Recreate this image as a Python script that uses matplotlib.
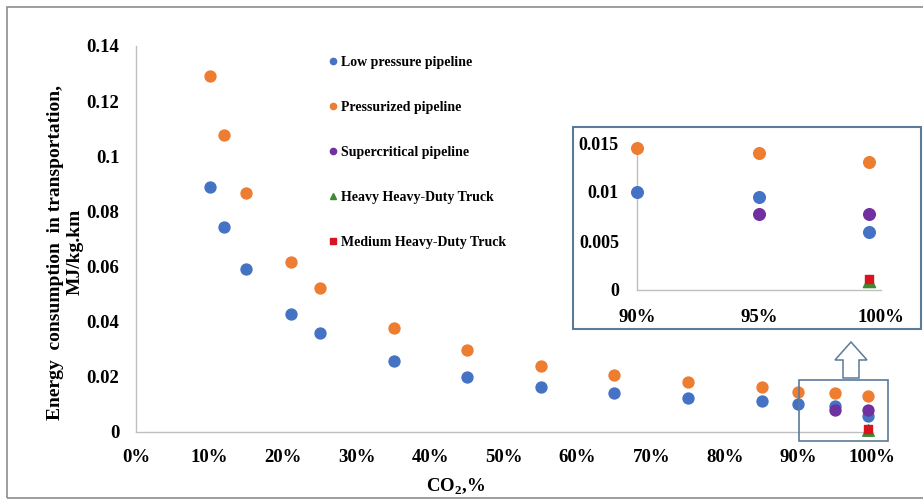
import matplotlib
matplotlib.use("Agg")
import matplotlib.pyplot as plt
from matplotlib.lines import Line2D
from matplotlib.patches import Rectangle, Polygon

plt.rcParams['font.family'] = ['Liberation Serif', 'DejaVu Serif']
plt.rcParams['font.weight'] = 'bold'
plt.rcParams['mathtext.fontset'] = 'custom'
plt.rcParams['mathtext.rm'] = 'Liberation Serif'
plt.rcParams['mathtext.bf'] = 'Liberation Serif:bold'

# CO2 purity (fraction) and specific transport energy (MJ/kg.km)
co2_pipe = [0.10, 0.12, 0.15, 0.21, 0.25, 0.35, 0.45, 0.55, 0.65, 0.75, 0.85, 0.90, 0.95, 0.995]
low_pressure = [0.0887, 0.0742, 0.0590, 0.0427, 0.0358, 0.0256, 0.0198, 0.0165,
                0.0143, 0.0122, 0.0111, 0.0100, 0.0095, 0.0059]
pressurized = [0.1290, 0.1076, 0.0866, 0.0615, 0.0524, 0.0376, 0.0296, 0.0238,
               0.0205, 0.0180, 0.0162, 0.0145, 0.0140, 0.0131]
co2_super = [0.95, 0.995]
supercritical = [0.0078, 0.0078]
co2_truck = [0.995]
heavy_truck = [0.0009]
medium_truck = [0.0011]

x_ticks = [0.0, 0.1, 0.2, 0.3, 0.4, 0.5, 0.6, 0.7, 0.8, 0.9, 1.0]
x_tick_labels = ['0%', '10%', '20%', '30%', '40%', '50%', '60%', '70%', '80%', '90%', '100%']
y_ticks = [0, 0.02, 0.04, 0.06, 0.08, 0.10, 0.12, 0.14]
y_tick_labels = ['0', '0.02', '0.04', '0.06', '0.08', '0.1', '0.12', '0.14']
inset_x_ticks = [0.90, 0.95, 1.00]
inset_x_labels = ['90%', '95%', '100%']
inset_y_ticks = [0, 0.005, 0.01, 0.015]
inset_y_labels = ['0', '0.005', '0.01', '0.015']

BLUE = '#4472C4'
ORANGE = '#ED7D31'
PURPLE = '#7030A0'
GREEN = '#3E8A2E'
RED = '#D9141E'
AXIS_GREY = '#BFBFBF'
FRAME_BLUE = '#5B7A99'

fig = plt.figure(figsize=(9.23, 5.03), dpi=100)

# outer chart border
fig.patches.append(Rectangle((7 / 923, 1 - 498 / 503), 1.2, 491 / 503, transform=fig.transFigure,
                             fill=False, edgecolor='#8C8C8C', linewidth=1.2, zorder=0))

ax = fig.add_axes([136 / 923, 1 - 432 / 503, (872 - 136) / 923, (432 - 46) / 503])


def style_axes(a):
    for side in ('top', 'right'):
        a.spines[side].set_visible(False)
    for side in ('left', 'bottom'):
        a.spines[side].set_color(AXIS_GREY)
        a.spines[side].set_linewidth(1.0)
    a.tick_params(length=0)


def visible(xs, ys, xmin):
    pairs = [(x, y) for x, y in zip(xs, ys) if x >= xmin]
    return [p[0] for p in pairs], [p[1] for p in pairs]


def draw_series(a, ms, xmin=0.0):
    a.scatter(*visible(co2_pipe, pressurized, xmin), s=ms, color=ORANGE, zorder=3, clip_on=False)
    a.scatter(*visible(co2_pipe, low_pressure, xmin), s=ms, color=BLUE, zorder=3, clip_on=False)
    a.scatter(*visible(co2_super, supercritical, xmin), s=ms, color=PURPLE, zorder=4,
              clip_on=False)
    a.scatter(*visible(co2_truck, heavy_truck, xmin), s=ms * 1.1, color=GREEN, marker='^',
              zorder=5, clip_on=False)
    a.scatter(*visible(co2_truck, medium_truck, xmin), s=ms * 0.55, color=RED, marker='s',
              zorder=6, clip_on=False)


style_axes(ax)
draw_series(ax, 62)
ax.set_xlim(0, 1.0)
ax.set_ylim(0, 0.14)
ax.set_xticks(x_ticks, x_tick_labels, fontsize=13.5, fontweight='bold')
ax.set_yticks(y_ticks, y_tick_labels, fontsize=13.5, fontweight='bold')
ax.tick_params(axis='x', pad=12)
ax.tick_params(axis='y', pad=12)
ax.patch.set_alpha(0)

fig.text(456 / 923, 1 - 487 / 503, r'CO$_\mathbf{2}$,%', ha='center', va='center',
         fontsize=13.5, fontweight='bold')
fig.text(65 / 923, 1 - 252 / 503, 'Energy  consumption  in transportation,\nMJ/kg.km',
         rotation=90, ha='center', va='center', fontsize=14, fontweight='bold',
         linespacing=1.2, multialignment='center')

handles = [
    Line2D([], [], linestyle='none', marker='o', color=BLUE, markersize=4.5),
    Line2D([], [], linestyle='none', marker='o', color=ORANGE, markersize=4.5),
    Line2D([], [], linestyle='none', marker='o', color=PURPLE, markersize=4.5),
    Line2D([], [], linestyle='none', marker='^', color=GREEN, markersize=5),
    Line2D([], [], linestyle='none', marker='s', color=RED, markersize=4.5),
]
labels = ['Low pressure pipeline', 'Pressurized pipeline', 'Supercritical pipeline',
          'Heavy Heavy-Duty Truck', 'Medium Heavy-Duty Truck']
leg = ax.legend(handles, labels, loc='upper left', bbox_to_anchor=(322 / 923, 1 - 49 / 503),
                bbox_transform=fig.transFigure, frameon=False, handlelength=0.6,
                handletextpad=0.3, labelspacing=2.3, borderpad=0,
                prop={'family': ['Liberation Serif'], 'weight': 'bold', 'size': 10})

# zoom box around the high-purity points and the arrow leading to the inset
fig.patches.append(Rectangle((799 / 923, 1 - 441 / 503), 89 / 923, 61 / 503,
                             transform=fig.transFigure, fill=False,
                             edgecolor=FRAME_BLUE, linewidth=1.2, zorder=6))
arrow_pts = [(843, 378), (859, 378), (859, 360), (867, 360), (851, 342), (835, 360), (843, 360)]
fig.patches.append(Polygon([(x / 923, 1 - y / 503) for x, y in arrow_pts], closed=True,
                           transform=fig.transFigure, facecolor='white',
                           edgecolor=FRAME_BLUE, linewidth=1.1, zorder=6))

# inset frame and axes
fig.patches.append(Rectangle((573 / 923, 1 - 329 / 503), (921 - 573) / 923, 202 / 503,
                             transform=fig.transFigure, facecolor='white',
                             edgecolor=FRAME_BLUE, linewidth=1.5, zorder=1))
axin = fig.add_axes([637 / 923, 1 - 290 / 503, (881 - 637) / 923, (290 - 143) / 503])
axin.set_zorder(5)
axin.patch.set_alpha(0)
style_axes(axin)
draw_series(axin, 70, xmin=0.90)
axin.set_xlim(0.90, 1.00)
axin.set_ylim(0, 0.015)
axin.set_xticks(inset_x_ticks, inset_x_labels, fontsize=13.5, fontweight='bold')
axin.set_yticks(inset_y_ticks, inset_y_labels, fontsize=13, fontweight='bold')
axin.tick_params(axis='x', pad=14)
axin.tick_params(axis='y', pad=13)

fig.savefig('out.png', dpi=100)
